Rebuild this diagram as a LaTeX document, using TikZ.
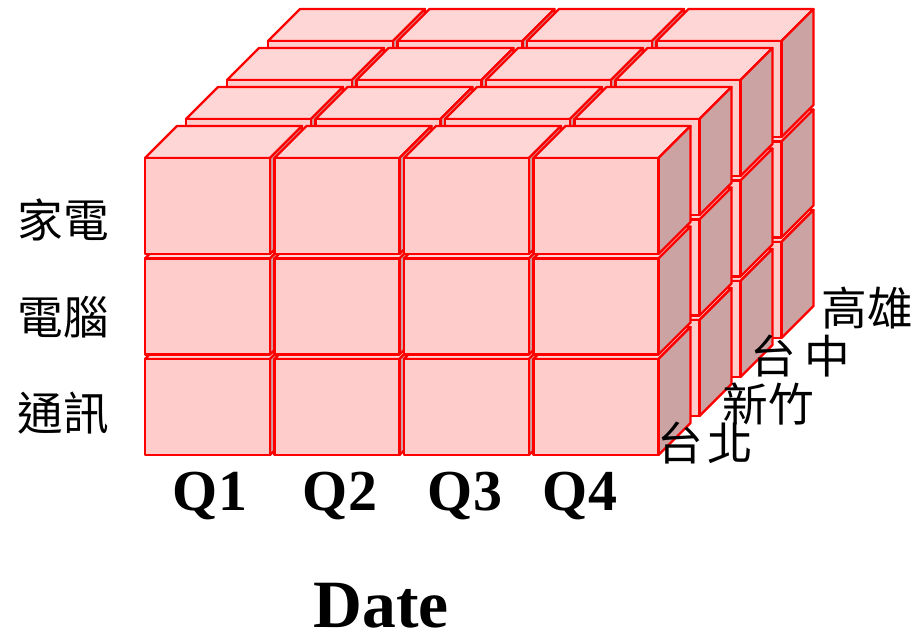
\documentclass[tikz,border=0pt]{standalone}
\usepackage{fontspec}
\setmainfont{Liberation Serif}
\newfontfamily\cjk{Noto Sans CJK TC}
\usetikzlibrary{positioning}

\definecolor{frontpink}{HTML}{FFCCCC}
\definecolor{toppink}{HTML}{FFD6D6}
\definecolor{sidepink}{HTML}{CCA3A3}

\begin{document}
\begin{tikzpicture}[x=0.02cm,y=-0.02cm,
    cubeedge/.style={draw=red, line width=1.3pt, line join=round},
    cjklabel/.style={font=\cjk\fontsize{26}{26}\selectfont, inner sep=0pt},
    qlabel/.style={font=\bfseries\fontsize{33}{33}\selectfont, inner sep=0pt, anchor=base},
    pics/minicube/.style={code={
        \draw[cubeedge, fill=toppink] (0,0) -- ++(32,-32) -- ++(125,0) -- ++(-32,32) -- cycle;
        \draw[cubeedge, fill=sidepink] (125,0) -- ++(32,-32) -- ++(0,96) -- ++(-32,32) -- cycle;
        \draw[cubeedge, fill=frontpink] (0,0) rectangle (125,96);
    }}]
    \useasboundingbox (0,0) rectangle (918,636);

    % data cube: layers back to front, columns left to right, rows bottom to top
    \foreach \k in {3,2,1,0}
      \foreach \c in {0,...,3}
        \foreach \r in {2,1,0}
          \pic at ({145+129.5*\c+41*\k},{158+100.5*\r-39*\k}) {minicube};

    % product axis
    \node[cjklabel] (appliance) at (63,220) {家電};
    \node[cjklabel] (computer) at (63,317) {電腦};
    \node[cjklabel] (telecom) at (63,413) {通訊};

    % city axis
    \node[cjklabel] (taipei) at (705,443) {台\hspace{0.1em}北};
    \node[cjklabel] (hsinchu) at (768,404) {新竹};
    \node[cjklabel] (taichung) at (800,356) {台\hspace{0.18em}中};
    \node[cjklabel] (kaohsiung) at (867,308) {高雄};

    % time axis
    \node[qlabel] (q1) at (210,510) {Q1};
    \node[qlabel] (q2) at (340,510) {Q2};
    \node[qlabel] (q3) at (465,510) {Q3};
    \node[qlabel] (q4) at (580,510) {Q4};
    \node[qlabel, font=\bfseries\fontsize{38.5}{38.5}\selectfont] (date) at (381,627) {Date};
\end{tikzpicture}
\end{document}
